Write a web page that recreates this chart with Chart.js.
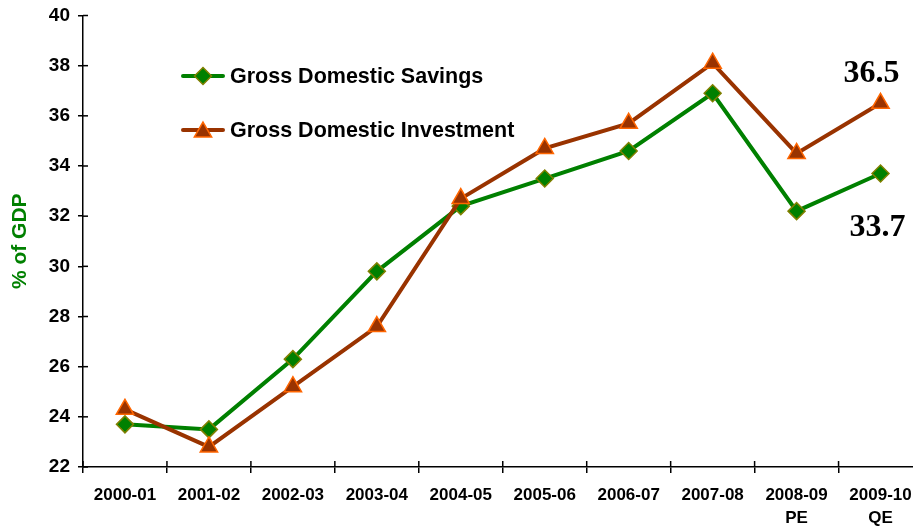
<!DOCTYPE html>
<html><head><meta charset="utf-8">
<script src="https://cdn.jsdelivr.net/npm/chart.js@4/dist/chart.umd.min.js"></script>
<style>html,body{margin:0;padding:0;overflow:hidden;background:#fff;}#wrap{width:934px;height:526px;}</style>
</head><body><div id="wrap"><canvas id="c" width="934" height="526"></canvas></div>
<script>
const categories = ['2000-01','2001-02','2002-03','2003-04','2004-05','2005-06','2006-07','2007-08',['2008-09','PE'],['2009-10','QE']];
const savings = [23.7,23.5,26.3,29.8,32.4,33.5,34.6,36.9,32.2,33.7];
const investment = [24.3,22.8,25.2,27.6,32.7,34.7,35.7,38.1,34.5,36.5];
const yMin = 22, yMax = 40, yStep = 2;
const seriesNames = ['Gross Domestic Savings','Gross Domestic Investment'];

const GREEN = '#008000', OLIVE = '#808000', BROWN = '#993300', ORANGE = '#FF6600';

function diamond(ctx, x, y, r, fill, stroke) {
  ctx.beginPath(); ctx.moveTo(x, y - r); ctx.lineTo(x + r, y); ctx.lineTo(x, y + r); ctx.lineTo(x - r, y); ctx.closePath();
  ctx.fillStyle = fill; ctx.fill(); ctx.lineWidth = 1.5; ctx.strokeStyle = stroke; ctx.stroke();
}
function triangle(ctx, x, y, r, fill, stroke) {
  ctx.beginPath();
  for (let k = 0; k < 3; k++) { const a = k * 2 * Math.PI / 3; const px = x + Math.sin(a) * r, py = y - Math.cos(a) * r; k ? ctx.lineTo(px, py) : ctx.moveTo(px, py); }
  ctx.closePath(); ctx.fillStyle = fill; ctx.fill(); ctx.lineWidth = 1.5; ctx.strokeStyle = stroke; ctx.stroke();
}

const extras = {
  id: 'extras',
  afterDraw(chart) {
    const ctx = chart.ctx, xs = chart.scales.x, ys = chart.scales.y, ca = chart.chartArea;
    ctx.save();
    ctx.strokeStyle = '#000'; ctx.lineWidth = 1.5;
    const n = categories.length, w = (ca.right - ca.left) / n;
    for (let i = 0; i <= n; i++) { const x = ca.left + i * w; ctx.beginPath(); ctx.moveTo(x, ca.bottom); ctx.lineTo(x, ca.bottom - 6); ctx.stroke(); }
    for (let v = yMin; v <= yMax; v += yStep) { const y = ys.getPixelForValue(v); ctx.beginPath(); ctx.moveTo(ca.left, y); ctx.lineTo(ca.left + 5, y); ctx.stroke(); }
    const items = [
      {y: 76, color: GREEN, mark: (x, y) => diamond(ctx, x, y, 8.5, GREEN, OLIVE)},
      {y: 130, color: BROWN, mark: (x, y) => triangle(ctx, x, y, 10, BROWN, ORANGE)}
    ];
    items.forEach((it, i) => {
      ctx.strokeStyle = it.color; ctx.lineWidth = 4; ctx.lineCap = 'round';
      ctx.beginPath(); ctx.moveTo(183, it.y); ctx.lineTo(223, it.y); ctx.stroke();
      it.mark(203, it.y + (i ? 2 : 0));
      ctx.fillStyle = '#000'; ctx.font = 'bold 21.5px "Liberation Sans", Arial, sans-serif';
      ctx.textAlign = 'left'; ctx.textBaseline = 'middle';
      ctx.fillText(seriesNames[i], 230, it.y + 1);
    });
    const last = n - 1;
    ctx.font = 'bold 32px "Liberation Serif", "Times New Roman", serif';
    ctx.fillStyle = '#000'; ctx.textAlign = 'center'; ctx.textBaseline = 'middle';
    ctx.fillText(investment[last].toFixed(1), xs.getPixelForValue(last) - 9, ys.getPixelForValue(investment[last]) - 30);
    ctx.fillText(savings[last].toFixed(1), xs.getPixelForValue(last) - 3, ys.getPixelForValue(savings[last]) + 54);
    ctx.restore();
  }
};

new Chart(document.getElementById('c'), {
  type: 'line',
  data: {
    labels: categories,
    datasets: [
      {label: seriesNames[1], data: investment, borderColor: BROWN, borderWidth: 4, backgroundColor: BROWN,
       pointStyle: 'triangle', pointRadius: 10, pointBackgroundColor: BROWN, pointBorderColor: ORANGE, pointBorderWidth: 1.5, tension: 0, order: 1},
      {label: seriesNames[0], data: savings, borderColor: GREEN, borderWidth: 4, backgroundColor: GREEN,
       pointStyle: 'rectRot', pointRadius: 8.5, pointBackgroundColor: GREEN, pointBorderColor: OLIVE, pointBorderWidth: 1.5, tension: 0, order: 2}
    ]
  },
  options: {
    responsive: false, animation: false, devicePixelRatio: 1,
    layout: {padding: {top: 15.5, left: 0, right: 0, bottom: 0}},
    plugins: {legend: {display: false}, tooltip: {enabled: false}},
    scales: {
      x: {
        offset: true,
        grid: {display: true, drawOnChartArea: false, offset: true, color: '#000', lineWidth: 1.5, tickLength: 6},
        border: {display: true, color: '#000', width: 1.5},
        ticks: {color: '#000', font: {family: '"Liberation Sans", Arial, sans-serif', size: 17, weight: 'bold', lineHeight: 1.4}, padding: 10, maxRotation: 0, autoSkip: false},
        afterFit: s => { s.height = 59; s.paddingLeft = 0; s.paddingRight = 0; }
      },
      y: {
        min: yMin, max: yMax,
        grid: {display: true, drawOnChartArea: false, color: '#000', lineWidth: 1.5, tickLength: 5},
        border: {display: true, color: '#000', width: 1.5},
        ticks: {stepSize: yStep, color: '#000', font: {family: '"Liberation Sans", Arial, sans-serif', size: 19, weight: 'bold'}, padding: 8},
        title: {display: true, text: '% of GDP', color: GREEN, font: {family: '"Liberation Sans", Arial, sans-serif', size: 21, weight: 'bold', lineHeight: 1.2}, padding: {top: 8, bottom: 0}},
        afterFit: s => { s.width = 83; s.paddingTop = 0; s.paddingBottom = 0; }
      }
    }
  },
  plugins: [extras]
});
</script></body></html>
